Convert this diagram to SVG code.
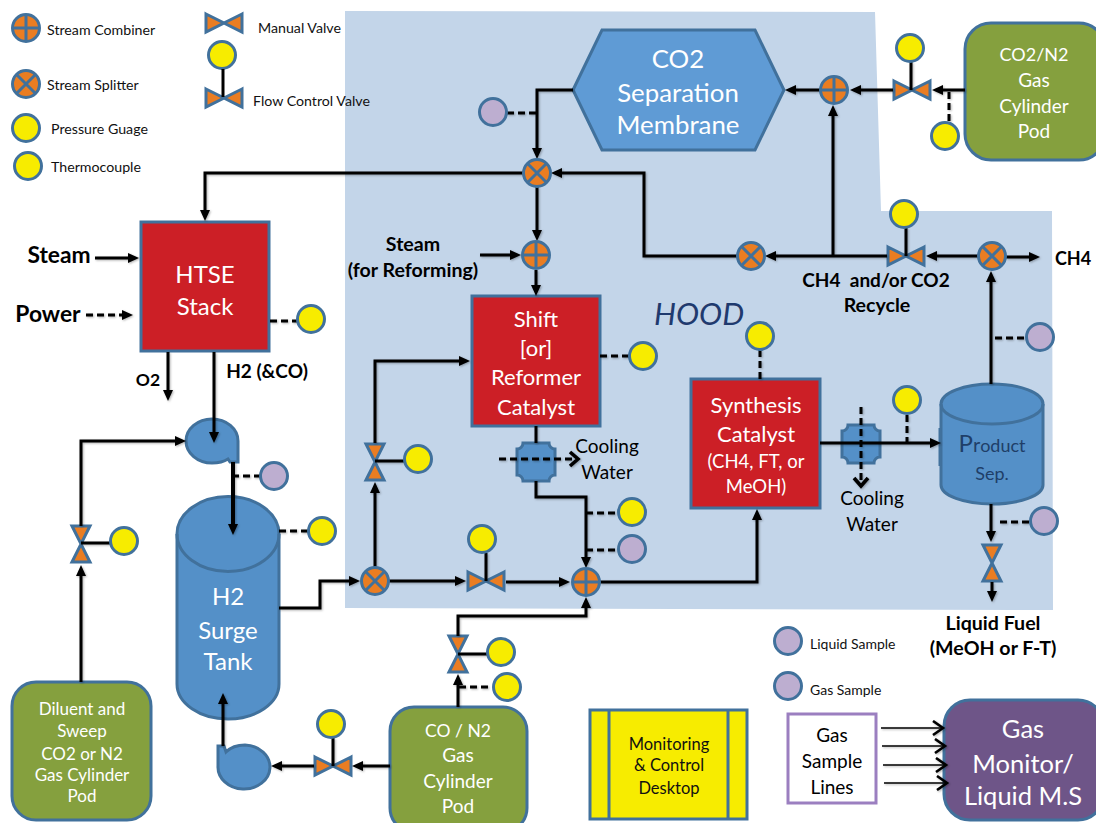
<svg xmlns="http://www.w3.org/2000/svg" width="1096" height="823" viewBox="0 0 1096 823">
<style>
text{font-family:"Lato","Carlito","Liberation Sans",sans-serif}
.eq{stroke:#41719c;stroke-width:3}
.w{fill:#fff;font-size:24px;text-anchor:middle}
.wm{fill:#fff;font-size:25.8px;text-anchor:middle}
.wc{fill:#fff;font-size:22px;text-anchor:middle}
.wl{fill:#fff;font-size:19px;text-anchor:middle}
.ws{fill:#fff;font-size:17px;text-anchor:middle}
.k{fill:#000;font-size:19px;text-anchor:middle}
.leg{fill:#111;font-size:14.2px}
.legs{fill:#111;font-size:14px}
.b{fill:#000;font-size:19.6px;font-weight:700;text-anchor:middle}
.bl{fill:#000;font-size:22.8px;font-weight:700;text-anchor:middle}
.pipe{fill:none;stroke:#000;stroke-width:3;stroke-linejoin:miter}
.arr{marker-end:url(#ah)}
.dash{fill:none;stroke:#000;stroke-width:3;stroke-dasharray:7 4}
.chev{marker-end:url(#ob)}
.thin{fill:none;stroke:#000;stroke-width:1.6;marker-end:url(#oa)}
</style>
<defs>
<filter id="sh" x="-5%" y="-5%" width="110%" height="110%"><feDropShadow dx="1" dy="1" stdDeviation="1" flood-color="#000" flood-opacity="0.3"/></filter>
<marker id="ah" markerUnits="userSpaceOnUse" markerWidth="13" markerHeight="12" refX="6" refY="6" orient="auto"><path d="M0,1 L11,6 L0,11 Z" fill="#000"/></marker>
<marker id="oa" markerUnits="userSpaceOnUse" markerWidth="14" markerHeight="16" refX="11" refY="8" orient="auto"><path d="M1,1 L11,8 L1,15" fill="none" stroke="#000" stroke-width="2.6"/></marker>
<marker id="ob" markerUnits="userSpaceOnUse" markerWidth="14" markerHeight="18" refX="10" refY="9" orient="auto"><path d="M2,2 L10,9 L2,16" fill="none" stroke="#000" stroke-width="3.6"/></marker>
<g id="combiner"><circle r="13.5" fill="#ea7d22" class="eq"/><path d="M-13,0H13M0,-13V13" class="eq" fill="none"/></g>
<g id="splitter"><circle r="13.5" fill="#ea7d22" class="eq"/><path d="M-9.5,-9.5L9.5,9.5M9.5,-9.5L-9.5,9.5" class="eq" fill="none"/></g>
<circle id="gauge" r="13.5" fill="#f7ec00" class="eq"/>
<circle id="sample" r="13.5" fill="#bdaed0" class="eq"/>
<path id="valveH" d="M-18,-9L0,0L-18,9ZM18,-9L0,0L18,9Z" fill="#ea7d22" class="eq"/>
<path id="valveV" d="M-9,-18L0,0L9,-18ZM-9,18L0,0L9,18Z" fill="#ea7d22" class="eq"/>
<path id="hx" d="M-13,-19H13A6,6 0 0 0 19,-13V13A6,6 0 0 0 13,19H-13A6,6 0 0 0 -19,13V-13A6,6 0 0 0 -13,-19Z" fill="#5490c8" class="eq"/>
</defs>
<rect width="1096" height="823" fill="#fff"/>
<path id="hood" d="M345,11 L875,12 L881,211 L1052,211 L1053,610 L345,608 Z" fill="#c3d5e9"/>

<g id="legend">
<use href="#combiner" x="26" y="28"/><text class="leg" x="47" y="35">Stream Combiner</text>
<use href="#splitter" x="26" y="84"/><text class="leg" x="47" y="90">Stream Splitter</text>
<use href="#gauge" x="26" y="128"/><text class="leg" x="51" y="134">Pressure Guage</text>
<use href="#gauge" x="28" y="166"/><text class="leg" x="51" y="172">Thermocouple</text>
<use href="#valveH" x="224" y="23"/><text class="leg" x="258" y="33">Manual Valve</text>
<use href="#gauge" x="222" y="55"/>
<use href="#valveH" x="224" y="98"/><path d="M223,69V97" class="pipe"/>
<text class="leg" x="253" y="106">Flow Control Valve</text>
<use href="#sample" x="788" y="641"/><text class="legs" x="810" y="649">Liquid Sample</text>
<use href="#sample" x="788" y="686"/><text class="legs" x="810" y="695">Gas Sample</text>
</g>

<g id="membrane"><path d="M573,90 L602,30 L755,30 L784,90 L755,150 L602,150 Z" fill="#5f9bd5" class="eq"/>
<text class="wm" x="678" y="68">CO2</text><text class="wm" x="678" y="102">Separation</text><text class="wm" x="678" y="134">Membrane</text></g>
<g id="co2pod"><rect x="965" y="23" width="140" height="137" rx="26" fill="#85a03e" class="eq"/>
<text class="wl" x="1034" y="61" style="font-size:18px">CO2/N2</text><text class="wl" x="1034" y="87">Gas</text><text class="wl" x="1034" y="113">Cylinder</text><text class="wl" x="1034" y="138">Pod</text></g>
<g id="htse"><rect x="141" y="222" width="128" height="129" fill="#cc1f26" class="eq"/>
<text class="w" x="205" y="283">HTSE</text><text class="w" x="205" y="315">Stack</text></g>
<g id="shift"><rect x="472" y="296" width="128" height="130" fill="#cc1f26" class="eq"/>
<text class="wc" x="536" y="327">Shift</text><text class="wc" x="536" y="356">[or]</text><text class="wc" x="536" y="385">Reformer</text><text class="wc" x="536" y="415">Catalyst</text></g>
<g id="synthesis"><rect x="691" y="379" width="129" height="129" fill="#cc1f26" class="eq"/>
<text class="wc" x="756" y="413">Synthesis</text><text class="wc" x="756" y="442">Catalyst</text><text class="wl" x="756" y="468" style="font-size:18.5px">(CH4, FT, or</text><text class="wl" x="756" y="493" style="font-size:18.5px">MeOH)</text></g>
<g id="tank"><path d="M177,534 A51,37.5 0 0 1 279,534 V684 A51,35 0 0 1 177,684 Z" fill="#5490c8" class="eq"/>
<path d="M177,534 A51,37.5 0 0 0 279,534" fill="none" class="eq"/>
<text class="w" x="228" y="605">H2</text><text class="w" x="228" y="639">Surge</text><text class="w" x="228" y="670">Tank</text></g>
<g id="product"><path d="M941,404 A51,20 0 0 1 1043,404 V485 A51,19 0 0 1 941,485 Z" fill="#5490c8" class="eq"/>
<path d="M941,404 A51,20 0 0 0 1043,404" fill="none" class="eq"/>
<path d="M940,428V466" class="eq" fill="none"/>
<text x="992" y="452" text-anchor="middle" fill="#1f3f68" font-size="18"><tspan font-size="24">P</tspan><tspan font-size="20">r</tspan>oduct</text><text x="992" y="480" text-anchor="middle" fill="#1f3f68" font-size="18">Sep.</text></g>
<g id="pump1"><path d="M238,462 L238,441 A26,22 0 1 0 212,463 Q222,463 228,459 L230,462 Z" fill="#5490c8" class="eq"/></g>
<g id="pump2"><path d="M218,746 V766 A26,22 0 1 0 245,745 Q233,745 226,752 L224,746 Z" fill="#5490c8" class="eq"/></g>
<g id="hx1"><use href="#hx" x="536" y="462"/></g>
<g id="hx2"><use href="#hx" x="861" y="444"/></g>
<g id="diluent"><rect x="12" y="682" width="139" height="138" rx="24" fill="#85a03e" class="eq"/>
<text class="ws" x="82" y="715">Diluent and</text><text class="ws" x="82" y="737">Sweep</text><text class="ws" x="82" y="760">CO2 or N2</text><text class="ws" x="82" y="781">Gas Cylinder</text><text class="ws" x="82" y="802">Pod</text></g>
<g id="copod"><rect x="390" y="707" width="137" height="125" rx="24" fill="#85a03e" class="eq"/>
<text class="wl" x="458" y="737" style="font-size:17.5px">CO / N2</text><text class="wl" x="458" y="762">Gas</text><text class="wl" x="458" y="788">Cylinder</text><text class="wl" x="458" y="813">Pod</text></g>
<g id="desktop"><rect x="590" y="710" width="157" height="109" fill="#f7ec00" class="eq"/><path d="M609,710V819M728,710V819" class="eq" fill="none"/>
<text x="669" y="750" text-anchor="middle" font-size="16.5" fill="#111">Monitoring</text><text x="669" y="771" text-anchor="middle" font-size="16.5" fill="#111">&amp; Control</text><text x="669" y="794" text-anchor="middle" font-size="16.5" fill="#111">Desktop</text></g>
<g id="samplelines"><rect x="788" y="714" width="88" height="89" fill="#fff" stroke="#9b7fc0" stroke-width="3"/>
<text class="k" x="832" y="742">Gas</text><text class="k" x="832" y="768">Sample</text><text class="k" x="832" y="794">Lines</text></g>
<g id="monitor"><rect x="944" y="700" width="160" height="120" rx="26" fill="#6e5588" class="eq"/>
<text class="w" x="1023" y="738" style="font-size:25.5px">Gas</text><text class="w" x="1023" y="773" style="font-size:25.5px">Monitor/</text><text class="w" x="1023" y="805" style="font-size:25.5px">Liquid M.S</text></g>

<g id="v1"><use href="#valveH" x="912" y="90"/></g>
<g id="v2"><use href="#valveH" x="906" y="256"/></g>
<g id="v3"><use href="#valveV" x="375" y="462"/></g>
<g id="v4"><use href="#valveH" x="486" y="581"/></g>
<g id="v5"><use href="#valveV" x="458" y="654"/></g>
<g id="v6"><use href="#valveH" x="333" y="766"/></g>
<g id="v7"><use href="#valveV" x="81" y="544"/></g>
<g id="v8"><use href="#valveV" x="992" y="563"/></g>

<g id="connectors" filter="url(#sh)">
<path class="pipe arr" d="M573,90 H537 V154"/>
<path class="pipe arr" d="M523,173 H205 V216"/>
<path class="pipe arr" d="M537,187 V236"/>
<path class="pipe arr" d="M480,255 H516"/>
<path class="pipe arr" d="M536,270 V291"/>
<path class="pipe arr" d="M737,256 H644 V173 H556"/>
<path class="pipe arr" d="M887,256 H770"/>
<path class="pipe arr" d="M833,256 V110"/>
<path class="pipe arr" d="M978,256 H931"/>
<path class="pipe arr" d="M1006,257 H1035"/>
<path class="pipe arr" d="M991,384 V276"/>
<path class="pipe arr" d="M820,90 H790"/>
<path class="pipe arr" d="M893,90 H855"/>
<path class="pipe arr" d="M965,90 H937"/>
<path class="pipe" d="M911,62 V90"/>
<path class="dash" d="M949,92 V122"/>
<path class="pipe" d="M906,228 V256"/>
<path class="pipe arr" d="M95,258 H134"/>
<path class="dash arr" d="M86,315 H128"/>
<path class="pipe arr" d="M168,352 V396"/>
<path class="pipe arr" d="M214,352 V438"/>
<path class="pipe arr" d="M233,462 V530" style="stroke-width:4"/>
<path class="dash" d="M232,476 H260"/>
<path class="dash" d="M279,531 H308"/>
<path class="pipe arr" d="M279,608 H320 V581 H355"/>
<path class="pipe arr" d="M375,567 V487"/>
<path class="pipe" d="M375,461 H404"/>
<path class="pipe arr" d="M375,443 V361 H465"/>
<path class="pipe arr" d="M389,581 H461"/>
<path class="pipe" d="M486,553 V581"/>
<path class="pipe arr" d="M506,582 H565"/>
<path class="pipe" d="M536,426 V443"/>
<path class="pipe arr" d="M536,481 V497 H586 V563"/>
<path class="dash chev" d="M499,459 H578"/>
<path class="dash" d="M586,513 H617"/>
<path class="dash" d="M586,550 H617"/>
<path class="pipe arr" d="M600,582 H757 V514"/>
<path class="pipe arr" d="M458,707 V679"/>
<path class="pipe arr" d="M458,636 V616 H586 V602"/>
<path class="pipe" d="M458,654 H487"/>
<path class="dash" d="M459,687 H492"/>
<path class="pipe arr" d="M390,766 H357"/>
<path class="pipe" d="M333,738 V766"/>
<path class="pipe arr" d="M314,766 H276"/>
<path class="pipe arr" d="M223,746 V698"/>
<path class="pipe arr" d="M81,682 V570"/>
<path class="pipe arr" d="M81,526 V441 H181"/>
<path class="pipe" d="M81,543 H110"/>
<path class="dash" d="M600,356 H629"/>
<path class="dash" d="M270,321 H297"/>
<path class="dash" d="M760,350 V379"/>
<path class="pipe arr" d="M820,443 H936"/>
<path class="dash chev" d="M861,407 V486"/>
<path class="dash" d="M907,415 V443"/>
<path class="dash" d="M995,338 H1026"/>
<path class="pipe arr" d="M991,504 V537"/>
<path class="pipe arr" d="M992,582 V597"/>
<path class="dash" d="M1000,522 H1030"/>
<path class="dash" d="M507,113 H537"/>
<path class="thin" d="M881,728 H943"/>
<path class="thin" d="M882,746 H945"/>
<path class="thin" d="M883,765 H946"/>
<path class="thin" d="M884,783 H947"/>
</g>

<g id="sp1"><use href="#splitter" x="537" y="173"/></g>
<g id="cb1"><use href="#combiner" x="536" y="255"/></g>
<g id="sp2"><use href="#splitter" x="751" y="256"/></g>
<g id="cb2"><use href="#combiner" x="834" y="90"/></g>
<g id="sp3"><use href="#splitter" x="992" y="256"/></g>
<g id="sp4"><use href="#splitter" x="375" y="581"/></g>
<g id="cb3"><use href="#combiner" x="586" y="582"/></g>
<g id="g1"><use href="#gauge" x="910" y="48"/></g>
<g id="g2"><use href="#gauge" x="945" y="136"/></g>
<g id="g3"><use href="#gauge" x="904" y="214"/></g>
<g id="g4"><use href="#gauge" x="311" y="319"/></g>
<g id="g5"><use href="#gauge" x="643" y="356"/></g>
<g id="g6"><use href="#gauge" x="760" y="336"/></g>
<g id="g7"><use href="#gauge" x="907" y="400"/></g>
<g id="g8"><use href="#gauge" x="418" y="459"/></g>
<g id="g9"><use href="#gauge" x="322" y="531"/></g>
<g id="g10"><use href="#gauge" x="632" y="512"/></g>
<g id="g11"><use href="#gauge" x="482" y="539"/></g>
<g id="g12"><use href="#gauge" x="124" y="541"/></g>
<g id="g13"><use href="#gauge" x="501" y="652"/></g>
<g id="g14"><use href="#gauge" x="507" y="687"/></g>
<g id="g15"><use href="#gauge" x="331" y="724"/></g>
<g id="s1"><use href="#sample" x="493" y="112"/></g>
<g id="s2"><use href="#sample" x="274" y="476"/></g>
<g id="s3"><use href="#sample" x="632" y="549"/></g>
<g id="s4"><use href="#sample" x="1040" y="337"/></g>
<g id="s5"><use href="#sample" x="1044" y="521"/></g>

<g id="labels">
<text class="bl" x="59" y="263">Steam</text>
<text class="bl" x="48" y="322">Power</text>
<text class="b" x="413" y="251">Steam</text>
<text class="b" x="413" y="277">(for Reforming)</text>
<text class="b" x="876" y="287" style="font-size:19px;white-space:pre">CH4  and/or CO2</text>
<text class="b" x="877" y="312">Recycle</text>
<text class="b" x="1073" y="265" style="font-size:18px">CH4</text>
<text class="b" x="148" y="386" style="font-size:17.5px">O2</text>
<text class="b" x="267" y="378" style="font-size:19px">H2 (&amp;CO)</text>
<text x="699" y="325" text-anchor="middle" font-size="31" font-style="italic" fill="#1f3a6e">HOOD</text>
<text class="k" x="607" y="453">Cooling</text><text class="k" x="607" y="479">Water</text>
<text class="k" x="872" y="505">Cooling</text><text class="k" x="872" y="531">Water</text>
<text class="b" x="993" y="630">Liquid Fuel</text>
<text class="b" x="993" y="655">(MeOH or F-T)</text>
</g>
</svg>
